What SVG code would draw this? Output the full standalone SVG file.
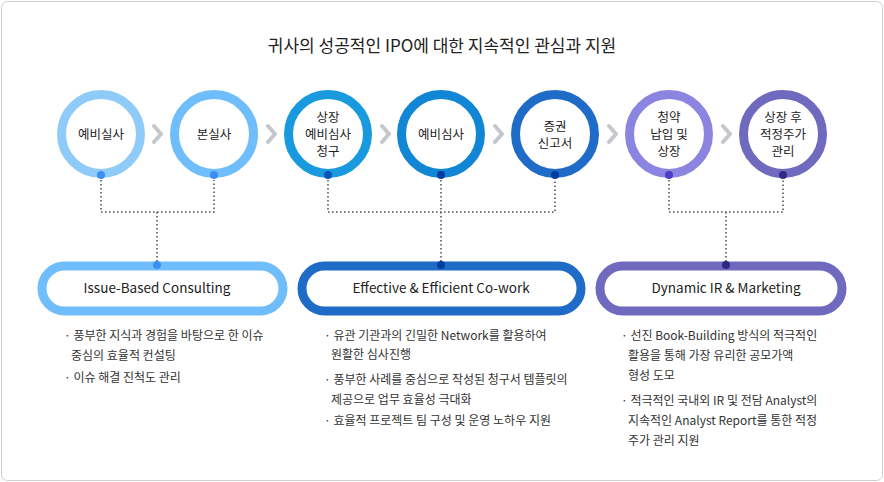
<svg xmlns="http://www.w3.org/2000/svg" width="884" height="482" viewBox="0 0 884 482">
<style>
text{font-family:"Noto Sans CJK KR","Noto Sans",sans-serif;fill:#222}
.c{text-anchor:middle;font-size:12.5px}
.p{text-anchor:middle;font-size:13.5px}
.b{font-size:12px;fill:#333}
.ring{fill:#fff;stroke-width:9}
.dot{stroke:#555;stroke-width:1.6;stroke-dasharray:1.6 2.4;fill:none}
.chev{fill:none;stroke:#c4c7cc;stroke-width:4;stroke-linecap:round;stroke-linejoin:round}
</style>
<rect x="1.5" y="1.5" width="881" height="479" rx="6" fill="#fff" stroke="#cfcfcf"/>
<text x="442" y="52" text-anchor="middle" font-size="17">귀사의 성공적인 IPO에 대한 지속적인 관심과 지원</text>
<g id="connectors">
<path class="dot" d="M101 180V212H214V180M157 212V262"/>
<path class="dot" d="M328 180V212H555V180M441 180V262"/>
<path class="dot" d="M669 180V212H783V180M726 212V262"/>
<path class="chev" d="M154 126l7 8-7 8M268 126l7 8-7 8M382 126l7 8-7 8M495 126l7 8-7 8M609 126l7 8-7 8M723 126l7 8-7 8"/>
</g>
<g id="n1"><circle class="ring" cx="101" cy="134" r="39.5" stroke="#8fcbf9"/><circle cx="101" cy="175" r="4" fill="#3a8ff0"/><text class="c" x="101" y="139">예비실사</text></g>
<g id="n2"><circle class="ring" cx="214" cy="134" r="39.5" stroke="#6fbdfb"/><circle cx="214" cy="175" r="4" fill="#3a8ff0"/><text class="c" x="214" y="139">본실사</text></g>
<g id="n3"><circle class="ring" cx="328" cy="134" r="39.5" stroke="#1a9ade"/><circle cx="328" cy="175" r="4" fill="#0a54b8"/><text class="c" x="328" y="122">상장</text><text class="c" x="328" y="139">예비심사</text><text class="c" x="328" y="156">청구</text></g>
<g id="n4"><circle class="ring" cx="441" cy="134" r="39.5" stroke="#1186d4"/><circle cx="441" cy="175" r="4" fill="#003da0"/><text class="c" x="441" y="139">예비심사</text></g>
<g id="n5"><circle class="ring" cx="555" cy="134" r="39.5" stroke="#1f6bc8"/><circle cx="555" cy="175" r="4" fill="#003da0"/><text class="c" x="555" y="131">증권</text><text class="c" x="555" y="148">신고서</text></g>
<g id="n6"><circle class="ring" cx="669" cy="134" r="39.5" stroke="#8b84e0"/><circle cx="669" cy="175" r="4" fill="#4a40c8"/><text class="c" x="669" y="122">청약</text><text class="c" x="669" y="139">납입 및</text><text class="c" x="669" y="156">상장</text></g>
<g id="n7"><circle class="ring" cx="783" cy="134" r="39.5" stroke="#706abf"/><circle cx="783" cy="175" r="4" fill="#2f2a88"/><text class="c" x="783" y="122">상장 후</text><text class="c" x="783" y="139">적정주가</text><text class="c" x="783" y="156">관리</text></g>
<g id="p1"><rect x="42" y="266" width="241" height="45" rx="22.5" fill="#fff" stroke="#6fbdfb" stroke-width="9"/><circle cx="157" cy="265" r="4" fill="#3a8ff0"/><text class="p" x="157" y="293">Issue-Based Consulting</text>
<text class="b" x="64" y="340">· 풍부한 지식과 경험을 바탕으로 한 이슈</text><text class="b" x="71" y="360">중심의 효율적 컨설팅</text><text class="b" x="64" y="382">· 이슈 해결 진척도 관리</text></g>
<g id="p2"><rect x="302" y="266" width="279" height="45" rx="22.5" fill="#fff" stroke="#1f6bc8" stroke-width="9"/><circle cx="441" cy="265" r="4" fill="#003da0"/><text class="p" x="441" y="293">Effective &amp; Efficient Co-work</text>
<text class="b" x="324" y="340">· 유관 기관과의 긴밀한 Network를 활용하여</text><text class="b" x="331" y="359">원활한 심사진행</text><text class="b" x="324" y="384">· 풍부한 사례를 중심으로 작성된 청구서 템플릿의</text><text class="b" x="331" y="404">제공으로 업무 효율성 극대화</text><text class="b" x="324" y="425">· 효율적 프로젝트 팀 구성 및 운영 노하우 지원</text></g>
<g id="p3"><rect x="600" y="266" width="242" height="45" rx="22.5" fill="#fff" stroke="#706abf" stroke-width="9"/><circle cx="726" cy="265" r="4" fill="#2f2a88"/><text class="p" x="726" y="293">Dynamic IR &amp; Marketing</text>
<text class="b" x="621" y="340">· 선진 Book-Building 방식의 적극적인</text><text class="b" x="628" y="360">활용을 통해 가장 유리한 공모가액</text><text class="b" x="628" y="380">형성 도모</text><text class="b" x="621" y="405">· 적극적인 국내외 IR 및 전담 Analyst의</text><text class="b" x="628" y="425">지속적인 Analyst Report를 통한 적정</text><text class="b" x="628" y="445">주가 관리 지원</text></g>
</svg>
